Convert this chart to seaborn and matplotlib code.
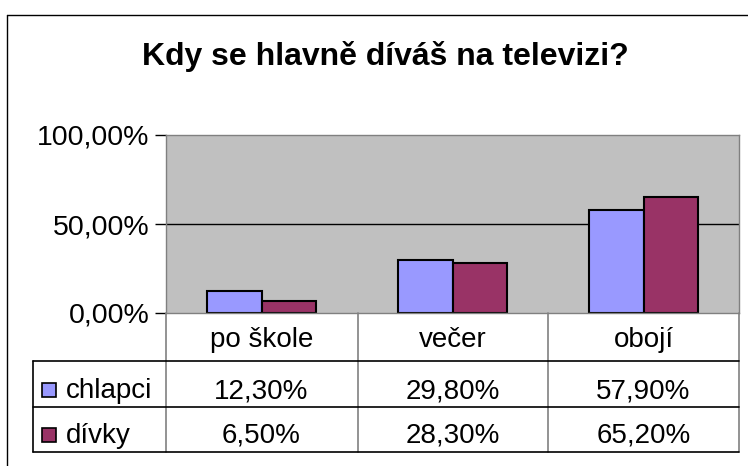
import numpy as np
import pandas as pd
import matplotlib
matplotlib.use("Agg")
import matplotlib.pyplot as plt
import matplotlib.transforms as mtransforms
from matplotlib.lines import Line2D
from matplotlib.patches import Rectangle
import seaborn as sns

# data
kategorie = ["po škole", "večer", "obojí"]
skupiny = ["chlapci", "dívky"]
chlapci = [12.3, 29.8, 57.9]
divky = [6.5, 28.3, 65.2]
barvy = ["#9999FF", "#993366"]
y_ticks = [0, 50, 100]
nadpis = "Kdy se hlavně díváš na televizi?"

df = pd.DataFrame({
    "cas": kategorie * 2,
    "pohlavi": ["chlapci"] * 3 + ["dívky"] * 3,
    "podil": chlapci + divky
})

sns.set_style("white")
plt.rcParams["font.family"] = ["Liberation Sans", "DejaVu Sans"]
plt.rcParams["text.color"] = "black"
plt.rcParams["ytick.labelcolor"] = "black"
plt.rcParams["ytick.color"] = "black"

W, H = 748, 466
fig = plt.figure(figsize=(W / 100, H / 100), dpi=100)

def fx(x):
    return x / W

def fy(y):
    return 1 - y / H

def pct(v):
    return f"{v:.2f}".replace(".", ",") + "%"

# plot area in pixels
left, right, top, bottom = 166, 739, 135, 313
ax = fig.add_axes([fx(left), fy(bottom), fx(right) - fx(left), fy(top) - fy(bottom)])
ax.set_facecolor("#C0C0C0")

sns.barplot(data=df, x="cas", y="podil", hue="pohlavi", order=kategorie,
            hue_order=skupiny, palette=barvy, edgecolor="black", linewidth=1.5,
            width=0.57, gap=0, saturation=1, legend=False, ax=ax)

ax.set_xlim(-0.5, len(kategorie) - 0.5)
ax.set_ylim(0, 100)
ax.set_yticks(y_ticks)
ax.set_yticklabels([pct(v) for v in y_ticks], fontsize=20.5)
ax.tick_params(axis="y", direction="out", length=8, width=1, colors="black", pad=4, left=True)
ax.set_xticks([])
ax.set_xlabel("")
ax.set_ylabel("")
ax.axhline(50, color="black", lw=1, zorder=0.5)
ax.set_axisbelow(True)
for s in ax.spines.values():
    s.set_color("#808080")
    s.set_linewidth(1)

# title
fig.text(fx(385), fy(65), nadpis, ha="center", va="baseline", fontsize=23, fontweight="bold")

# outer frame
fig.add_artist(Line2D([fx(7), fx(7)], [fy(15), fy(H + 5)], color="black", lw=1))
fig.add_artist(Line2D([fx(7), fx(W + 5)], [fy(15), fy(15)], color="black", lw=1))

# data table
trans = mtransforms.blended_transform_factory(ax.transData, fig.transFigure)
col_x = [166, 358, 548, 739]
for x in col_x:
    fig.add_artist(Line2D([fx(x), fx(x)], [fy(bottom), fy(452)], color="#808080", lw=1.2))
fig.add_artist(Line2D([fx(33), fx(33)], [fy(361), fy(452)], color="black", lw=1.2))
for y in [361, 407, 452]:
    fig.add_artist(Line2D([fx(33), fx(739)], [fy(y), fy(y)], color="black", lw=1.2))

for i, k in enumerate(kategorie):
    fig.text(i, fy(347), k, transform=trans, ha="center", va="baseline", fontsize=20)

rady = [chlapci, divky]
row_base = [398, 443]
for r, (nazev, hodnoty) in enumerate(zip(skupiny, rady)):
    yb = row_base[r]
    fig.add_artist(Rectangle((fx(42), fy(yb - 1)), fx(14), 14 / H,
                             facecolor=barvy[r], edgecolor="black", lw=1.2))
    fig.text(fx(66), fy(yb), nazev, ha="left", va="baseline", fontsize=20)
    for i, v in enumerate(hodnoty):
        fig.text(i, fy(yb), pct(v), transform=trans,
                 ha="center", va="baseline", fontsize=20)

fig.savefig("out.png", dpi=100)
